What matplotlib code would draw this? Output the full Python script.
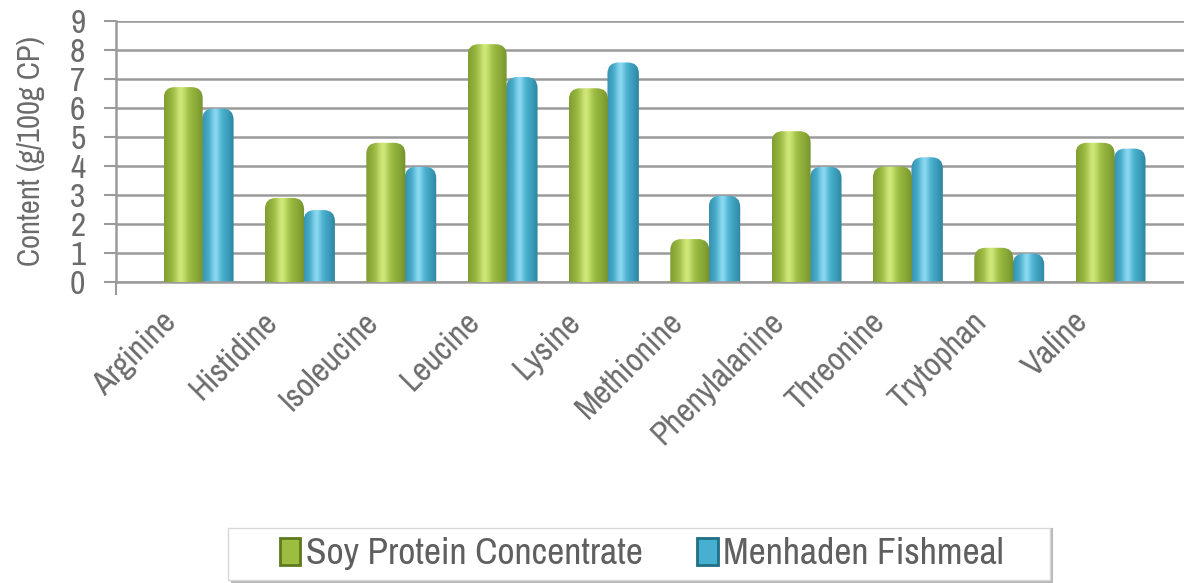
import numpy as np
import matplotlib.pyplot as plt
from matplotlib import font_manager as fm
from matplotlib.patches import FancyBboxPatch, Patch, Rectangle
from matplotlib.colors import to_rgb

amino = ['Arginine', 'Histidine', 'Isoleucine', 'Leucine', 'Lysine',
         'Methionine', 'Phenylalanine', 'Threonine', 'Trytophan', 'Valine']
soy = [6.72, 2.9, 4.8, 8.2, 6.68, 1.48, 5.2, 3.98, 1.18, 4.8]
fish = [5.98, 2.48, 3.97, 7.07, 7.57, 2.97, 3.97, 4.3, 0.98, 4.6]

# a narrow font, like Arial Narrow in the original
have = set(f.name for f in fm.fontManager.ttflist)
want = ['Liberation Sans Narrow', 'Arial Narrow', 'Archivo Narrow',
        'PT Sans Narrow', 'Roboto Condensed', 'Open Sans Condensed']
narrow = [n for n in want if n in have]
plt.rcParams['font.family'] = narrow[:1] + ['Liberation Sans', 'DejaVu Sans']

txt = '#6b6b6b'
grid = '#9a9a9a'


def cyl_img(dark, mid, light):
    # horizontal shading across a cylinder
    d, m, l = np.array(to_rgb(dark)), np.array(to_rgb(mid)), np.array(to_rgb(light))
    u = np.linspace(0, 1, 64)
    t = np.exp(-((u - 0.42) / 0.16) ** 2)
    edge = np.clip(np.abs(u - 0.45) / 0.55, 0, 1) ** 2
    col = m[None, :] * (1 - t[:, None]) + l[None, :] * t[:, None]
    col = col * (1 - edge[:, None]) + d[None, :] * edge[:, None]
    return col[None, :, :]


green_img = cyl_img('#72902c', '#9dbd40', '#cfe678')
blue_img = cyl_img('#2c849f', '#47b0d0', '#8ad8ef')

fig = plt.figure(figsize=(11.84, 5.83), dpi=100)
ax = fig.add_axes([0.098, 0.5163, 0.902, 0.4477])

x = np.arange(len(amino))
b1 = ax.bar(x - 0.03, soy, width=0.385, align='edge', color='none', edgecolor='none')
b2 = ax.bar(x + 0.35, fish, width=0.31, align='edge', color='none', edgecolor='none')

ax.set_xlim(-0.5, 10.04)
ax.set_ylim(0, 9)

# pixel aspect so rounded tops look round
aspect = (9 / 261.0) / (1 / 101.2)


def draw_cyl(bars, img, z):
    for r in bars:
        x0, w, h = r.get_x(), r.get_width(), r.get_height()
        p = FancyBboxPatch((x0, -1), w, h + 1,
                           boxstyle='round,pad=0,rounding_size=0.11',
                           mutation_aspect=aspect, fc='none', ec='none', zorder=z)
        ax.add_patch(p)
        im = ax.imshow(img, extent=(x0, x0 + w, -1, h), aspect='auto',
                       zorder=z, interpolation='bilinear')
        im.set_clip_path(p)


draw_cyl(b2, blue_img, 2)
draw_cyl(b1, green_img, 3)

ax.set_yticks(range(10))
ax.yaxis.grid(True, color=grid, lw=1.8)
ax.set_axisbelow(True)
ax.set_xticks(x + 0.5)
ax.set_xticklabels([])
ax.set_xticks(np.arange(-0.5, 10, 1), minor=True)
ax.tick_params(axis='x', which='major', length=0)
ax.tick_params(axis='x', which='minor', length=9, width=1.5, color=grid)
ax.tick_params(axis='y', length=9, width=1.5, color=grid, labelsize=24,
               labelcolor=txt, pad=13)

for i, name in enumerate(amino):
    ax.text(i - 0.06, -0.85, name, rotation=45, ha='right', va='top',
            rotation_mode='anchor', fontsize=24, color=txt,
            transform=ax.transData)

for s in ['top', 'right']:
    ax.spines[s].set_visible(False)
for s in ['left', 'bottom']:
    ax.spines[s].set_color(grid)
    ax.spines[s].set_linewidth(1.8)

ax.set_ylabel('Content (g/100g CP)', fontsize=22, color=txt, labelpad=18)

# legend box with shadow, drawn apart so it can be wider than the entries
fig.patches.append(Rectangle((231 / 1184, 0.0), 822 / 1184, 55 / 583,
                             transform=fig.transFigure, fc='#8a8a8a', ec='none',
                             alpha=0.6, zorder=0))
fig.patches.append(Rectangle((228 / 1184, 3 / 583), 822 / 1184, 52 / 583,
                             transform=fig.transFigure, fc='white', ec='#d8d8d8',
                             lw=1, zorder=1))

handles = [Patch(facecolor='#9dbd40', edgecolor='#5e7a1f', lw=2),
           Patch(facecolor='#47b0d0', edgecolor='#1f6f86', lw=2)]
leg = fig.legend(handles, ['Soy Protein Concentrate', 'Menhaden Fishmeal'],
                 loc='center', bbox_to_anchor=(0.542, 0.05), ncol=2,
                 frameon=False, fontsize=27,
                 handlelength=0.55, handleheight=0.75, handletextpad=0.15,
                 columnspacing=1.45, borderpad=0.2, borderaxespad=0)
leg.set_zorder(3)
for t in leg.get_texts():
    t.set_color('#5f5f5f')

fig.savefig('out.png', dpi=100)
